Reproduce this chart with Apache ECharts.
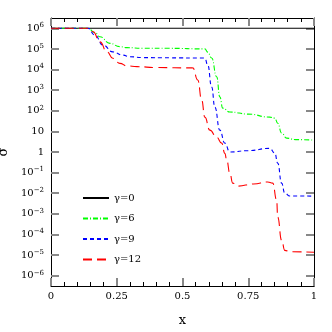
<!DOCTYPE html>
<html>
<head>
<meta charset="utf-8">
<script src="https://cdn.jsdelivr.net/npm/echarts@6/dist/echarts.min.js"></script>
<style>
  html, body { margin: 0; padding: 0; background: #fff; }
  #chart { width: 332px; height: 332px; }
</style>
</head>
<body>
<div id="chart"></div>
<script>
// values (sigma on a log axis)
const seriesNames = ['γ=0', 'γ=6', 'γ=9', 'γ=12'];
const yExponents = [-6, -5, -4, -3, -2, -1, 0, 1, 2, 3, 4, 5, 6];

const xG0 = [0, 1];
const sigmaG0 = [1e6, 1e6];

const xG6 = [0, 0.14, 0.167, 0.186, 0.224, 0.262, 0.289, 0.35, 0.45, 0.585, 0.596, 0.611, 0.63, 0.642, 0.653, 0.68, 0.75, 0.832, 0.851, 0.862, 0.877, 0.896, 0.93, 1];
const sigmaG6 = [1e6, 1e6, 6.2e5, 3.9e5, 1.86e5, 1.29e5, 1.15e5, 1.08e5, 1.07e5, 1.0e5, 7e4, 3.6e4, 4.4e3, 470, 135, 87, 69, 49, 44, 25, 8.3, 4.7, 4.0, 3.8];

const xG9 = [0, 0.14, 0.167, 0.197, 0.235, 0.273, 0.30, 0.35, 0.45, 0.585, 0.596, 0.611, 0.623, 0.642, 0.661, 0.68, 0.75, 0.832, 0.851, 0.862, 0.877, 0.889, 0.908, 1];
const sigmaG9 = [1e6, 1e6, 4.7e5, 1.55e5, 7.2e4, 5.0e4, 4.2e4, 3.8e4, 3.7e4, 3.6e4, 1.65e4, 1.4e3, 150, 11.5, 2.7, 1.0, 1.17, 1.5, 0.89, 0.29, 0.031, 0.01, 7.4e-3, 7.2e-3];

const xG12 = [0, 0.14, 0.16, 0.186, 0.213, 0.235, 0.262, 0.289, 0.327, 0.40, 0.539, 0.558, 0.573, 0.585, 0.604, 0.63, 0.649, 0.661, 0.668, 0.68, 0.691, 0.71, 0.77, 0.824, 0.843, 0.858, 0.862, 0.877, 0.889, 0.908, 1];
const sigmaG12 = [1e6, 1e6, 6.8e5, 2.2e5, 7.2e4, 3.5e4, 2.0e4, 1.5e4, 1.38e4, 1.25e4, 1.2e4, 3.1e3, 330, 49, 11.5, 5.2, 2.7, 0.87, 0.41, 0.095, 0.031, 0.022, 0.028, 0.035, 0.031, 4.7e-3, 6.9e-4, 5.2e-5, 1.7e-5, 1.45e-5, 1.38e-5];

const font = 'DejaVu Serif';

function toPairs(xs, ys) {
    return xs.map((x, i) => [x, Math.log10(ys[i])]);
}

function yLabel(v) {
    if (v === 0) return '1';
    if (v === 1) return '10';
    const e = v < 0 ? '\u2212' + (-v) : String(v);
    return '{b|10}{s|' + e + '}';
}

const chart = echarts.init(document.getElementById('chart'));

const xAxisBase = {
    type: 'value',
    min: 0,
    max: 1,
    interval: 0.25,
    axisLine: { onZero: false, lineStyle: { color: '#000', width: 1 } },
    axisTick: { inside: true, length: 8, lineStyle: { color: '#888', width: 2 } },
    minorTick: { show: true, splitNumber: 5, length: 4, lineStyle: { color: '#000', width: 1 } },
    splitLine: { show: false }
};

const yAxisBase = {
    type: 'value',
    min: -6.5,
    max: 6.5,
    axisLine: { onZero: false, lineStyle: { color: '#000', width: 1 } },
    axisTick: { inside: true, length: 8, customValues: yExponents, lineStyle: { color: '#888', width: 2 } },
    splitLine: { show: false }
};

const option = {
    animation: false,
    backgroundColor: '#fff',
    grid: { left: 51, right: 18, top: 18, bottom: 46, containLabel: false, outerBoundsMode: 'none' },
    legend: {
        orient: 'vertical',
        left: 77,
        top: 188,
        itemWidth: 26,
        itemHeight: 10,
        itemGap: 10.5,
        data: seriesNames,
        itemStyle: { color: 'transparent', borderColor: 'transparent', borderWidth: 0 },
        textStyle: { fontFamily: font, fontSize: 10, color: '#000' }
    },
    xAxis: [
        Object.assign({}, xAxisBase, {
            position: 'bottom',
            name: 'x',
            nameLocation: 'middle',
            nameGap: 28,
            nameTextStyle: { fontFamily: font, fontSize: 13, color: '#000' },
            axisLabel: {
                margin: 5,
                fontFamily: font,
                fontSize: 10,
                color: '#000',
                formatter: v => String(v)
            }
        }),
        Object.assign({}, xAxisBase, { position: 'top', axisLabel: { show: false } })
    ],
    yAxis: [
        Object.assign({}, yAxisBase, {
            position: 'left',
            name: 'σ',
            nameLocation: 'middle',
            nameGap: 38,
            nameRotate: 90,
            nameTextStyle: { fontFamily: font, fontSize: 13, color: '#000' },
            axisLabel: {
                margin: 7,
                customValues: yExponents,
                fontFamily: font,
                fontSize: 10,
                color: '#000',
                formatter: yLabel,
                rich: {
                    b: { fontFamily: font, fontSize: 10, color: '#000' },
                    s: { fontFamily: font, fontSize: 7, color: '#000', padding: [0, 0, 6, 0] }
                }
            }
        }),
        Object.assign({}, yAxisBase, { position: 'right', axisLabel: { show: false } })
    ],
    series: [
        {
            name: seriesNames[0], type: 'line', symbol: 'none',
            data: toPairs(xG0, sigmaG0),
            lineStyle: { color: '#000', width: 1.1, type: 'solid' },
            itemStyle: { color: '#000' }
        },
        {
            name: seriesNames[1], type: 'line', symbol: 'none', smooth: 0.5, smoothMonotone: 'x',
            data: toPairs(xG6, sigmaG6),
            lineStyle: { color: '#00ff00', width: 1.1, type: [5, 2, 1, 2] },
            itemStyle: { color: '#00ff00' }
        },
        {
            name: seriesNames[2], type: 'line', symbol: 'none', smooth: 0.5, smoothMonotone: 'x',
            data: toPairs(xG9, sigmaG9),
            lineStyle: { color: '#0000ff', width: 1.1, type: [4, 3] },
            itemStyle: { color: '#0000ff' }
        },
        {
            name: seriesNames[3], type: 'line', symbol: 'none', smooth: 0.5, smoothMonotone: 'x',
            data: toPairs(xG12, sigmaG12),
            lineStyle: { color: '#ff0000', width: 1.1, type: [9, 5] },
            itemStyle: { color: '#ff0000' }
        }
    ]
};

chart.setOption(option);
</script>
</body>
</html>
